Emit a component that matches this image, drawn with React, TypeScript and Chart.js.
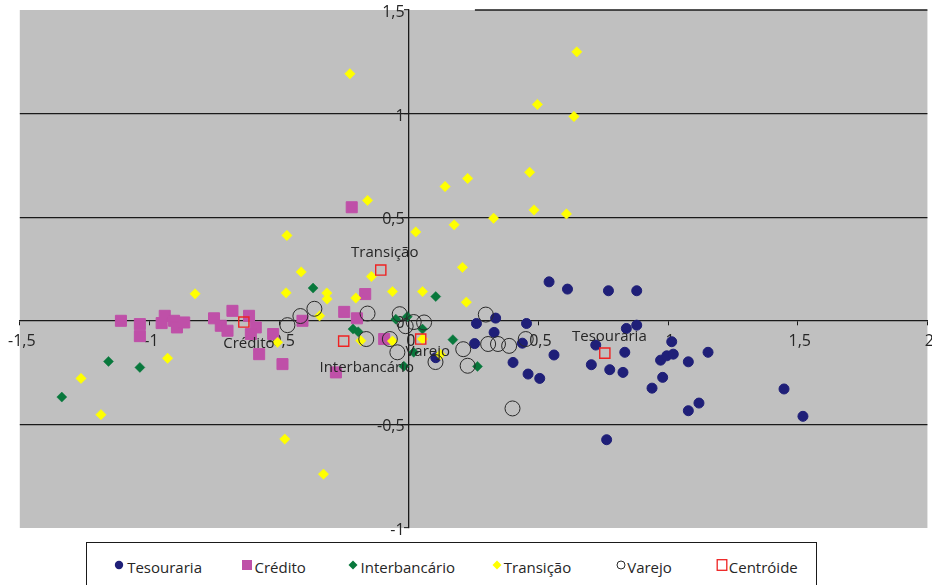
import React, { useEffect, useRef } from "react";
import { Chart, registerables } from "chart.js";

Chart.register(...registerables);

// ---------- DATA ----------
const seriesNames = ["Tesouraria", "Crédito", "Interbancário", "Transição", "Varejo", "Centróide"];

const tesouraria: [number, number][] = [
  [0.541, 0.188], [0.612, 0.153], [0.770, 0.145], [0.879, 0.145], [0.335, 0.013],
  [0.261, -0.013], [0.329, -0.056], [0.454, -0.013], [0.254, -0.110], [0.438, -0.108],
  [0.402, -0.201], [0.560, -0.165], [0.460, -0.257], [0.505, -0.278], [0.721, -0.117],
  [0.704, -0.212], [0.775, -0.236], [0.826, -0.249], [0.833, -0.152], [0.839, -0.037],
  [0.879, -0.021], [1.014, -0.101], [0.971, -0.190], [0.995, -0.169], [1.020, -0.161],
  [1.078, -0.198], [1.154, -0.152], [0.979, -0.273], [0.938, -0.325], [1.119, -0.397],
  [1.078, -0.434], [0.763, -0.574], [1.447, -0.329], [1.520, -0.461], [0.104, -0.178],
];

const credito: [number, number][] = [
  [-1.110, 0.0], [-1.037, -0.016], [-1.037, -0.074], [-0.941, 0.024], [-0.953, -0.011],
  [-0.905, 0.0], [-0.894, -0.032], [-0.866, -0.008], [-0.751, 0.012], [-0.725, -0.024],
  [-0.699, -0.048], [-0.680, 0.048], [-0.616, 0.024], [-0.590, -0.032], [-0.609, -0.064],
  [-0.523, -0.064], [-0.577, -0.161], [-0.487, -0.209], [-0.410, 0.0], [-0.249, 0.043],
  [-0.200, 0.012], [-0.168, 0.129], [-0.095, -0.088], [-0.281, -0.249], [-0.220, 0.548],
];

const interbancario: [number, number][] = [
  [-1.338, -0.368], [-1.158, -0.196], [-1.037, -0.225], [-0.369, 0.158], [-0.215, -0.040],
  [-0.195, -0.053], [-0.050, 0.008], [-0.006, 0.020], [0.053, -0.040], [0.104, 0.117],
  [0.170, -0.091], [0.019, -0.152], [-0.019, -0.219], [0.265, -0.220],
];

const transicao: [number, number][] = [
  [-0.227, 1.192], [0.648, 1.298], [0.496, 1.044], [0.637, 0.986], [0.466, 0.717],
  [0.227, 0.687], [0.140, 0.648], [0.483, 0.535], [0.608, 0.516], [-0.159, 0.581],
  [0.327, 0.495], [0.027, 0.429], [0.175, 0.463], [-0.470, 0.412], [0.207, 0.258],
  [-0.415, 0.236], [-0.144, 0.214], [-0.824, 0.130], [-0.473, 0.135], [-0.316, 0.134],
  [-0.315, 0.105], [-0.204, 0.110], [-0.063, 0.141], [0.053, 0.141], [0.222, 0.090],
  [-0.344, 0.024], [-0.930, -0.181], [-1.264, -0.278], [-1.187, -0.453], [-0.478, -0.571],
  [-0.329, -0.740], [-0.506, -0.104], [-0.185, -0.096], [-0.063, -0.098], [0.053, -0.088],
  [0.122, -0.163],
];

const varejo: [number, number][] = [
  [-0.468, -0.021], [-0.418, 0.023], [-0.364, 0.058], [-0.159, 0.035], [-0.164, -0.088],
  [-0.073, -0.088], [-0.035, 0.032], [-0.012, -0.026], [0.019, -0.006], [0.059, -0.008],
  [-0.044, -0.152], [0.103, -0.199], [0.210, -0.137], [0.227, -0.217], [0.297, 0.030],
  [0.306, -0.112], [0.344, -0.112], [0.387, -0.121], [0.451, -0.088], [0.400, -0.423],
];

const centroidNames = ["Transição", "Crédito", "Interbancário", "Varejo", "Tesouraria"];
const centroides: [number, number][] = [
  [-0.108, 0.245], [-0.636, -0.006], [-0.251, -0.098], [0.046, -0.088], [0.756, -0.156],
];

const xTickValues = [-1.5, -1, -0.5, 0, 0.5, 1, 1.5, 2];
const yTickValues = [-1, -0.5, 0, 0.5, 1, 1.5];

// ---------- STYLE ----------
const FONT = "'Open Sans', 'DejaVu Sans', sans-serif";
const NAVY = "#1f1f78";
const MAGENTA = "#bf50a8";
const GREEN = "#08783c";
const YELLOW = "#ffff00";
const RED = "#ee2222";
const PLOT_BG = "#c0c0c0";
const TEXT = "#262626";
const LINE = "#1a1a1a";
const labelOffsets: [number, number][] = [[4, -17], [5, 22], [23, 27], [7, 13], [4.5, -16]];

const fmt = (v: number) => String(v).replace(".", ",");
const toPts = (arr: [number, number][]) => arr.map(([x, y]) => ({ x, y }));

const bgPlugin = {
  id: "plotBg",
  beforeDraw(chart: any) {
    const { ctx, chartArea } = chart;
    ctx.save();
    ctx.fillStyle = PLOT_BG;
    ctx.fillRect(chartArea.left, chartArea.top, chartArea.right - chartArea.left, chartArea.bottom - chartArea.top);
    ctx.restore();
  },
  beforeDatasetsDraw(chart: any) {
    // partial top line as in the reference
    const { ctx, chartArea, scales } = chart;
    const y = scales.y.getPixelForValue(1.5);
    ctx.save();
    ctx.strokeStyle = LINE;
    ctx.lineWidth = 1.3;
    ctx.beginPath();
    ctx.moveTo(scales.x.getPixelForValue(0.255), y);
    ctx.lineTo(chartArea.right, y);
    ctx.stroke();
    ctx.restore();
  },
};

const centroidLabelPlugin = {
  id: "centroidLabels",
  afterDatasetsDraw(chart: any) {
    const meta = chart.getDatasetMeta(5);
    const { ctx } = chart;
    ctx.save();
    ctx.font = `15px ${FONT}`;
    ctx.fillStyle = TEXT;
    ctx.textAlign = "center";
    ctx.textBaseline = "middle";
    meta.data.forEach((pt: any, i: number) => {
      const [dx, dy] = labelOffsets[i];
      ctx.fillText(centroidNames[i], pt.x + dx, pt.y + dy);
    });
    ctx.restore();
  },
};

function ChartCanvas() {
  const ref = useRef<HTMLCanvasElement | null>(null);
  useEffect(() => {
    if (!ref.current) return;
    const chart = new Chart(ref.current, {
      type: "scatter",
      data: {
        datasets: [
          { label: seriesNames[0], data: toPts(tesouraria), pointStyle: "circle", pointRadius: 5, pointBackgroundColor: NAVY, pointBorderColor: NAVY, pointBorderWidth: 1, order: 5 },
          { label: seriesNames[1], data: toPts(credito), pointStyle: "rect", pointRadius: 7.8, pointBackgroundColor: MAGENTA, pointBorderColor: MAGENTA, pointBorderWidth: 1, order: 4 },
          { label: seriesNames[2], data: toPts(interbancario), pointStyle: "rectRot", pointRadius: 5, pointBackgroundColor: GREEN, pointBorderColor: GREEN, pointBorderWidth: 0.5, order: 3 },
          { label: seriesNames[3], data: toPts(transicao), pointStyle: "rectRot", pointRadius: 5.2, pointBackgroundColor: YELLOW, pointBorderColor: YELLOW, pointBorderWidth: 0.5, order: 2 },
          { label: seriesNames[4], data: toPts(varejo), pointStyle: "circle", pointRadius: 7.5, pointBackgroundColor: "rgba(0,0,0,0)", pointBorderColor: "#2a2a2a", pointBorderWidth: 1, order: 1 },
          { label: seriesNames[5], data: toPts(centroides), pointStyle: "rect", pointRadius: 7.2, pointBackgroundColor: "rgba(0,0,0,0)", pointBorderColor: RED, pointBorderWidth: 1.4, order: 0 },
        ] as any,
      },
      options: {
        animation: false,
        responsive: false,
        maintainAspectRatio: false,
        layout: { padding: { left: 19, top: 10, right: 0, bottom: 12 } },
        plugins: { legend: { display: false }, tooltip: { enabled: false } },
        elements: { point: { hoverRadius: 0 } },
        scales: {
          x: {
            type: "linear",
            min: -1.5,
            max: 2,
            position: { y: 0 } as any,
            afterBuildTicks: (s: any) => { s.ticks = xTickValues.map((v) => ({ value: v })); },
            ticks: {
              callback: (v: any) => fmt(Number(v)),
              font: { family: FONT, size: 16 },
              color: TEXT,
              padding: 7,
              labelOffset: 2,
              autoSkip: false,
              maxRotation: 0,
              minRotation: 0,
            },
            grid: { drawOnChartArea: false, drawTicks: true, tickLength: 4, tickColor: LINE, tickWidth: 1 },
            border: { display: true, color: LINE, width: 1.3 },
          },
          y: {
            type: "linear",
            min: -1,
            max: 1.5,
            position: { x: 0 } as any,
            afterBuildTicks: (s: any) => { s.ticks = yTickValues.map((v) => ({ value: v })); },
            ticks: {
              callback: (v: any) => fmt(Number(v)) + " ",
              font: { family: FONT, size: 16 },
              color: TEXT,
              padding: 0,
              labelOffset: 2.5,
              autoSkip: false,
            },
            grid: {
              color: (c: any) => (c.tick && [1, 0.5, -0.5].includes(c.tick.value) ? LINE : "rgba(0,0,0,0)"),
              lineWidth: 1.3,
              drawTicks: true,
              tickLength: 4,
              tickColor: LINE,
              tickWidth: 1,
            },
            border: { display: true, color: LINE, width: 1.3 },
          },
        },
      },
      plugins: [bgPlugin, centroidLabelPlugin],
    });
    return () => chart.destroy();
  }, []);
  return <canvas ref={ref} width={940} height={540} style={{ position: "absolute", left: -1, top: 0, width: 940, height: 540 }} />;
}

function Marker({ kind }: { kind: number }) {
  const s = 12;
  let shape: React.ReactNode = null;
  if (kind === 0) shape = <circle cx={6} cy={6} r={4.2} fill={NAVY} />;
  if (kind === 1) shape = <rect x={1} y={1} width={10} height={10} fill={MAGENTA} />;
  if (kind === 2) shape = <polygon points="6,1.5 10.5,6 6,10.5 1.5,6" fill={GREEN} />;
  if (kind === 3) shape = <polygon points="6,1.5 10.5,6 6,10.5 1.5,6" fill={YELLOW} />;
  if (kind === 4) shape = <circle cx={6} cy={6} r={4} fill="none" stroke="#2a2a2a" strokeWidth={1} />;
  if (kind === 5) shape = <rect x={1.2} y={0.7} width={9.6} height={10.6} fill="none" stroke={RED} strokeWidth={1.3} />;
  return (
    <svg width={s} height={s} viewBox="0 0 12 12" style={{ display: "block" }}>
      {shape}
    </svg>
  );
}

const legendMarkerCenters = [31.8, 160.2, 266.2, 409.5, 533.5, 635.2];
const legendTextStarts = [40.2, 167.5, 273.5, 416.8, 540.2, 641.8];

function Legend() {
  return (
    <div
      style={{
        position: "absolute",
        left: 86,
        top: 542,
        width: 731,
        height: 70,
        border: "1.3px solid #1a1a1a",
        background: "#fff",
        boxSizing: "border-box",
      }}
    >
      {seriesNames.map((name, i) => (
        <React.Fragment key={name}>
          <div style={{ position: "absolute", left: legendMarkerCenters[i] - 6, top: 15.5 }}>
            <Marker kind={i} />
          </div>
          <div
            style={{
              position: "absolute",
              left: legendTextStarts[i],
              top: 13,
              fontFamily: FONT,
              fontSize: 15,
              lineHeight: "22px",
              color: TEXT,
              whiteSpace: "nowrap",
            }}
          >
            {name}
          </div>
        </React.Fragment>
      ))}
    </div>
  );
}

export default function App() {
  return (
    <div style={{ position: "fixed", left: 0, top: 0, width: 932, height: 585, overflow: "hidden", background: "#fff" }}>
      <ChartCanvas />
      <Legend />
    </div>
  );
}
